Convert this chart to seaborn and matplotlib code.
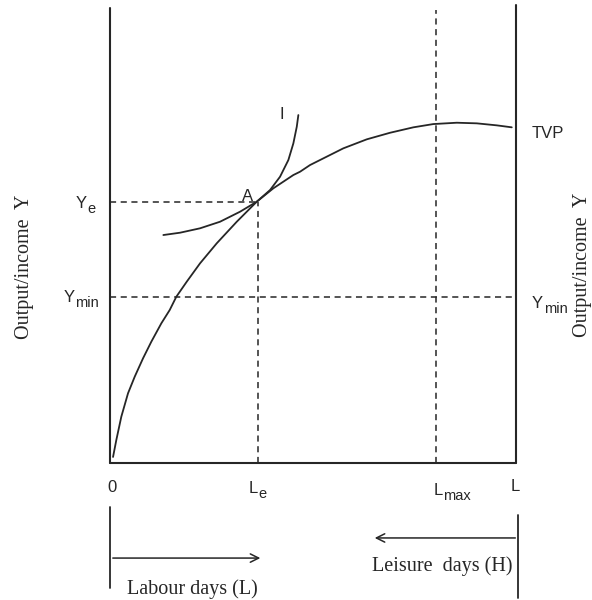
import numpy as np
import pandas as pd
import matplotlib
matplotlib.use("Agg")
import matplotlib.pyplot as plt
import seaborn as sns

# labour days on x (0 .. L=100), output/income on y (TVP peak ~ 100)
tvp_x = [0.74, 1.55, 2.78, 4.43, 6.08, 8.13, 10.17, 12.64, 14.70, 16.33, 18.89, 22.17,
         26.28, 31.21, 36.13, 40.22, 45.15, 46.80, 49.26, 51.72, 57.46, 63.23, 68.97,
         74.70, 79.63, 85.39, 90.32, 95.25, 98.94]
tvp_y = [1.76, 6.74, 13.58, 20.44, 25.31, 30.70, 35.57, 40.97, 44.87, 48.77, 53.17, 58.56,
         64.43, 70.76, 76.63, 80.56, 84.46, 85.43, 87.39, 88.86, 92.29, 94.93, 96.86,
         98.45, 99.41, 99.80, 99.62, 99.03, 98.45]

indiff_x = [13.13, 17.24, 22.17, 27.09, 32.02, 36.13, 39.41, 41.87, 43.92, 45.15, 45.99, 46.38]
indiff_y = [66.86, 67.54, 68.83, 70.76, 73.70, 76.63, 80.06, 83.96, 88.86, 93.75, 98.62, 102.05]

L_total = 100.0
L_e = 36.4
L_max = 80.3
Y_e = 76.4
Y_min = 48.7
top = 133.5

sns.set_style("white")
plt.rcParams['font.family'] = ['Liberation Sans', 'DejaVu Sans']
col = "#262626"

fig = plt.figure(figsize=(5.92, 6.0), dpi=100)
ax = fig.add_axes([0, 0, 1, 1])

tvp = pd.DataFrame({"L": tvp_x, "Y": tvp_y})
ic = pd.DataFrame({"L": indiff_x, "Y": indiff_y})
sns.lineplot(data=tvp, x="L", y="Y", color=col, lw=1.3, ax=ax, estimator=None, sort=False)
sns.lineplot(data=ic, x="L", y="Y", color=col, lw=1.3, ax=ax, estimator=None, sort=False)

# axes of the diagram
ax.plot([0, 0], [0, top], color=col, lw=1.5)
ax.plot([0, L_total], [0, 0], color=col, lw=1.5)
ax.plot([L_total, L_total], [0, top + 0.8], color=col, lw=1.5)

# dashed guides
dash = dict(color=col, lw=1.1, ls=(0, (4, 3)))
ax.plot([0, L_e], [Y_e, Y_e], **dash)
ax.plot([L_e, L_e], [0, Y_e], **dash)
ax.plot([0, L_total], [Y_min, Y_min], **dash)
ax.plot([L_max, L_max], [0, top - 0.7], **dash)


def sub_label(x, y, main, sub):
    # main letter ends at x, subscript starts there, both on baseline y
    ax.text(x, y, main, fontsize=12, color=col, ha="right", va="baseline")
    ax.annotate(sub, xy=(x, y), xytext=(0.3, -3.6), textcoords="offset points",
                fontsize=10.5, color=col, ha="left", va="baseline")


sub_label(-5.7, 74.8, "Y", "e")
sub_label(-8.6, 47.2, "Y", "min")
sub_label(106.7, 45.5, "Y", "min")
sub_label(36.5, -8.8, "L", "e")
sub_label(82.0, -9.4, "L", "max")

sans = dict(fontsize=12, color=col, ha="center", va="center")
ax.text(107.9, 96.5, "TVP", **sans)
ax.text(33.9, 78.1, "A", **sans)
ax.text(42.4, 102.3, "I", **sans)
ax.text(0.5, -7.3, "0", **sans)
ax.text(99.8, -7.0, "L", **sans)

serif = dict(family="Liberation Serif", fontsize=14.5, color=col, ha="center", va="center")
ax.text(-21.1, 57.5, "Output/income  Y", rotation=90, **serif)
ax.text(116.4, 58.0, "Output/income  Y", rotation=90, **serif)

# labour / leisure direction arrows
ax.plot([0, 0], [-12.9, -36.7], color=col, lw=1.3)
ax.annotate("", xy=(37.7, -27.9), xytext=(0, -27.9),
            arrowprops=dict(arrowstyle="->,head_length=0.6,head_width=0.3", color=col, lw=1.1))
ax.text(20.2, -36.9, "Labour days (L)", **serif)

ax.plot([100.5, 100.5], [-15.2, -39.6], color=col, lw=1.3)
ax.annotate("", xy=(64.5, -22.0), xytext=(100.5, -22.0),
            arrowprops=dict(arrowstyle="->,head_length=0.6,head_width=0.3", color=col, lw=1.1))
ax.text(81.8, -30.4, "Leisure  days (H)", **serif)

ax.set_xlim(-27.1, 118.7)
ax.set_ylim(-40.2, 135.8)
ax.axis("off")

fig.savefig("out.png", dpi=100)
